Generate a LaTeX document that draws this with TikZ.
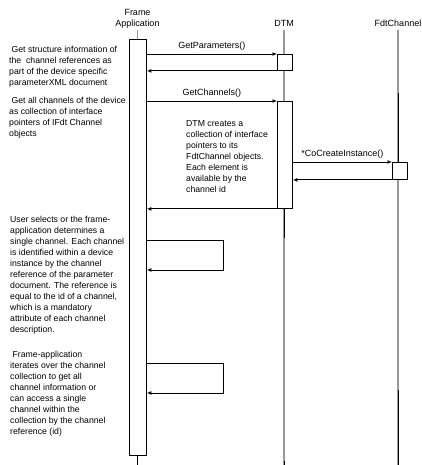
\documentclass[tikz,border=0pt]{standalone}
\usepackage{fontspec}
\setmainfont{Liberation Sans}
\usetikzlibrary{arrows.meta}
\begin{document}
\begin{tikzpicture}[x=1pt,y=-1pt,
  txt/.style={anchor=north west,inner sep=0pt,align=left,font=\fontsize{8.7}{11}\selectfont},
  lbl/.style={inner sep=0pt,font=\fontsize{9}{11}\selectfont},
  actbox/.style={draw=black,fill=white,line width=0.9pt,anchor=north west,inner sep=0pt},
  life/.style={draw=black!40,line width=1.2pt},
  lifeblk/.style={draw=black,line width=0.9pt},
  msg/.style={draw=black,line width=0.9pt,-{Latex[length=4.5pt,width=4pt]}}]
\useasboundingbox (0,0) rectangle (422,465);
% headers
\node[lbl,align=center] (hfa) at (137.5,19) {Frame\\Application};
\node[lbl] (hdtm) at (284,23) {DTM};
\node[lbl] (hfc) at (398,23) {FdtChannel};
% lifeline end coordinates
\coordinate (efa) at (137.5,465);
\coordinate (edtm) at (284,465);
\coordinate (efc) at (398,465);
% lifelines (gray)
\draw[life] (137.5,30) -- (137.5,40);
\draw[life] (hdtm.south |- 0,30) -- (edtm);
\draw[life] (hfc.south |- 0,30) -- (efc);
% activation boxes
\node[actbox,minimum width=17pt,minimum height=416pt] (fa) at (129,39) {};
\node[actbox,minimum width=15pt,minimum height=16pt] (d1) at (277,54) {};
\node[actbox,minimum width=15pt,minimum height=107pt] (d2) at (277,101) {};
\node[actbox,minimum width=15pt,minimum height=17pt] (f1) at (392,162) {};
% black parts of lifelines
\draw[lifeblk] (fa.south -| efa) -- (efa);
\draw[lifeblk] (d2.south -| edtm) -- (284,238);
\draw[lifeblk] (284,461) -- (edtm);
\draw[lifeblk] (398,93) -- (f1.north -| efc);
\draw[lifeblk] (398,390) -- (efc);
% messages
\draw[msg] (fa.east |- d1.north) -- node[lbl,above=3pt] (m1) {GetParameters()} (d1.north west);
\draw[msg] (d1.south west) -- (fa.east |- d1.south);
\draw[msg] (fa.east |- d2.north) -- node[lbl,above=3pt] (m2) {GetChannels()} (d2.north west);
\draw[msg] (d2.east |- f1.north) -- node[lbl,above=3pt] (m3) {*CoCreateInstance()} (f1.north west);
\draw[msg] (f1.south west) -- (d2.east |- f1.south);
\draw[msg] (d2.south west) -- (fa.east |- d2.south);
% self calls
\coordinate (s1a) at (223,240);
\coordinate (s1b) at (223,270);
\coordinate (s2a) at (223,363);
\coordinate (s2b) at (223,393);
\draw[msg] (fa.east |- s1a) -- (s1a) -- (s1b) -- (fa.east |- s1b);
\draw[msg] (fa.east |- s2a) -- (s2a) -- (s2b) -- (fa.east |- s2b);
% texts
\node[txt] (t1) at (9,46) {\ Get structure information of\\the \ channel references as\\part of the device specific\\parameterXML document};
\node[txt] (t2) at (9,97) {\ Get all channels of the device\\as collection of interface\\pointers of IFdt Channel\\objects};
\node[txt] (t3) at (10,216) {User selects or the frame-\\application determines a\\single channel. Each channel\\is identified within a device\\instance by the channel\\reference of the parameter\\document. The reference is\\equal to the id of a channel,\\which is a mandatory\\attribute of each channel\\description.};
\node[txt] (t4) at (10,351) {\ Frame-application\\iterates over the channel\\collection to get all\\channel information or\\can access a single\\channel within the\\collection by the channel\\reference (id)};
\node[txt] (t5) at (186,120) {DTM creates a\\collection of interface\\pointers to its\\FdtChannel objects.\\Each element is\\available by the\\channel id};
\end{tikzpicture}
\end{document}
